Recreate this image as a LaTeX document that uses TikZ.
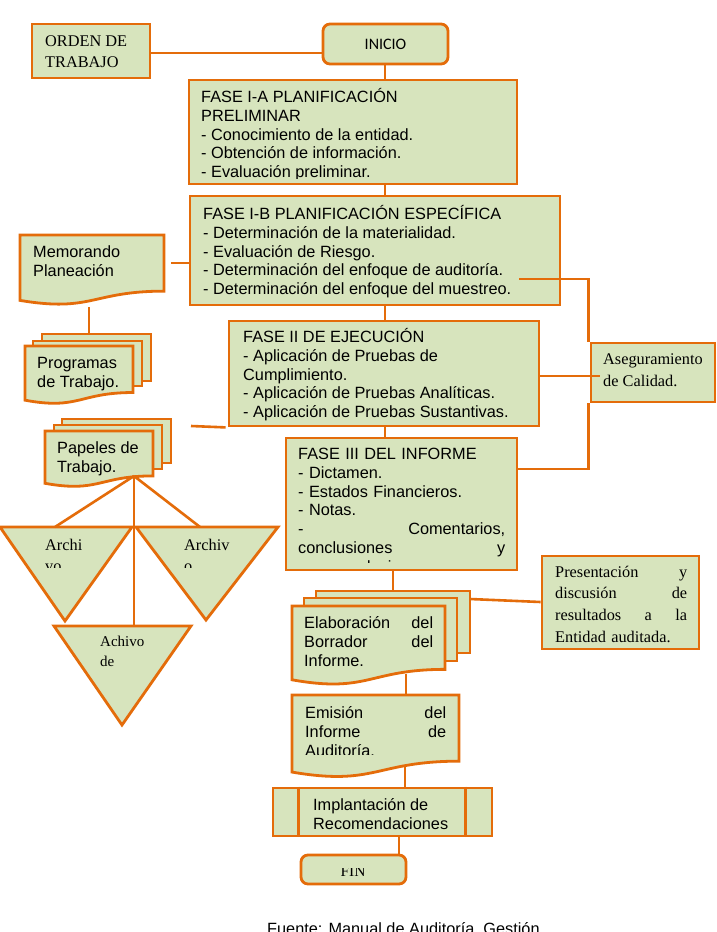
\documentclass[tikz,border=0pt]{standalone}
\usepackage{fontspec}
\setmainfont{Liberation Serif}
\newfontfamily\arialf{Liberation Sans}
\newfontfamily\carlitof{Carlito}
\definecolor{lineor}{HTML}{E46C0A}
\definecolor{boxfill}{HTML}{D7E4BD}

\tikzset{
  box/.style={draw=lineor, fill=boxfill, line width=2.8pt, inner sep=0pt},
  link/.style={draw=lineor, line width=2.6pt},
  txt/.style={inner sep=0pt, anchor=north west, align=left, text=black},
  sans/.style={font=\arialf\fontsize{16.3}{18.9}\selectfont},
  serif/.style={font=\fontsize{16.3}{21.6}\selectfont},
}
\newcommand\topstrut{\noindent\rule{0pt}{1em}}
% document symbol with wavy bottom: x, y (top), width, height
\newcommand\flowdoc[4]{%
  \draw[box] (#1,#2) -- (#1+#3,#2) -- (#1+#3,#2+0.802*#4)
    .. controls (#1+0.5*#3,#2+0.802*#4) and (#1+0.5*#3,#2+1.1075*#4) ..
    (#1,#2+0.934*#4) -- cycle;}

\begin{document}
\begin{tikzpicture}[x=1pt,y=-1pt]
\fill[white] (0,0) rectangle (717,932);
\useasboundingbox (0,0) rectangle (717,932);

% ---------- boxes ----------
\node[box, minimum width=118pt, minimum height=54pt] (orden) at (91,51) {};
\node[box, rounded corners=7pt, minimum width=125pt, minimum height=40pt] (inicio) at (385.5,44) {};
\node[box, minimum width=328pt, minimum height=104pt] (faseIA) at (353,132) {};
\node[box, minimum width=370pt, minimum height=109pt] (faseIB) at (375,250.5) {};
\node[box, minimum width=310pt, minimum height=105pt] (faseII) at (384,373.5) {};
\node[box, minimum width=231pt, minimum height=132pt] (faseIII) at (401.5,504) {};
\node[box, minimum width=124pt, minimum height=59pt] (aseg) at (653,372.5) {};
\node[box, minimum width=157pt, minimum height=93pt] (pres) at (620.5,602.5) {};
\node[box, minimum width=219pt, minimum height=48pt] (impl) at (382.5,812) {};
\draw[box] ([xshift=27pt]impl.north west) -- ([xshift=27pt]impl.south west);
\draw[box] ([xshift=-28pt]impl.north east) -- ([xshift=-28pt]impl.south east);
\node[box, rounded corners=7pt, minimum width=105pt, minimum height=29pt] (fin) at (353.5,869.5) {};

% memo
\flowdoc{20}{235}{144}{70}
% program sheets
\draw[box] (42,334) rectangle (151,381);
\draw[box] (33,341) rectangle (142,386);
\flowdoc{25}{346}{108}{58}
% working papers
\draw[box] (62,419) rectangle (171,463);
\draw[box] (54,425) rectangle (162,469);
\flowdoc{45}{431}{108}{56}
% draft report
\draw[box] (316,591) rectangle (470,653);
\draw[box] (304,598) rectangle (457,661);
\flowdoc{292}{606}{153}{79}
% final report
\flowdoc{292}{695}{167}{82.5}

% file triangles
\draw[box] (0,527) -- (132,527) -- (65,621) -- cycle;
\draw[box] (136,527) -- (278,527) -- (206,620) -- cycle;
\draw[box] (54,626) -- (191,626) -- (122,725) -- cycle;

% ---------- connection points ----------
\coordinate (spine) at (385,0);
\coordinate (memoR) at (171,263);
\coordinate (memoB) at (89,307);
\coordinate (progT) at (89,334);
\coordinate (papR) at (191,426);
\coordinate (papB) at (134,476);
\coordinate (triA) at (55,527);
\coordinate (triB) at (200,527);
\coordinate (triC) at (134,626);
\coordinate (ibR) at (519,279);
\coordinate (elabT) at (393,591);
\coordinate (elabR) at (470,599);
\coordinate (elabB) at (406,674);
\coordinate (emisT) at (406,695);
\coordinate (emisB) at (405,767);

% ---------- connectors ----------
\draw[link] (orden.east |- 0,53) -- (inicio.west |- 0,53);
\draw[link] (spine |- inicio.south) -- (spine |- faseIA.north);
\draw[link] (spine |- faseIA.south) -- (spine |- faseIB.north);
\draw[link] (spine |- faseIB.south) -- (spine |- faseII.north);
\draw[link] (spine |- faseII.south) -- (spine |- faseIII.north);
\draw[link] (elabT |- faseIII.south) -- (elabT);
\draw[link] (elabB) -- (emisT);
\draw[link] (emisB) -- (emisB |- impl.north);
\draw[link] (399,0 |- impl.south) -- (399,0 |- fin.north);
\draw[link] (memoR) -- (faseIB.west |- memoR);
\draw[link] (memoB) -- (progT);
\draw[link] (papR) -- ([xshift=-2pt]faseII.south west);
\draw[link] (papB) -- (triA);
\draw[link] (papB) -- (triC);
\draw[link] (papB) -- (triB);
\draw[link] (ibR) -| ([xshift=-1pt]aseg.north west);
\draw[link] ([xshift=-1pt]aseg.south west) |- (faseIII.east |- 0,469);
\draw[link] (faseII.east |- 0,376) -- ([xshift=10pt]aseg.west |- 0,376);
\draw[link] (elabR) -- (pres.west |- 0,602);

% ---------- texts ----------
\node[txt, serif, font=\fontsize{16.3}{21}\selectfont] (tOrden) at (45,30.2) {\topstrut ORDEN DE\\TRABAJO};
\node[inner sep=0pt, font=\carlitof\fontsize{16}{19}\selectfont] (tInicio) at (inicio) {INICIO};

\begin{scope}
\clip (194,85) rectangle (512,178.5);
\node[txt, sans] (tIA) at (201,85.7) {\topstrut FASE I-A PLANIFICACIÓN\\PRELIMINAR\\- Conocimiento de la entidad.\\- Obtención de información.\\- Evaluación preliminar.};
\end{scope}

\node[txt, sans] (tIB) at (203,202.7) {\topstrut FASE I-B PLANIFICACIÓN ESPECÍFICA\\- Determinación de la materialidad.\\- Evaluación de Riesgo.\\- Determinación del enfoque de auditoría.\\- Determinación del enfoque del muestreo.};

\begin{scope}
\clip (234,324) rectangle (534,420.5);
\node[txt, sans] (tII) at (243,325.7) {\topstrut FASE II DE EJECUCIÓN\\- Aplicación de Pruebas de\\Cumplimiento.\\- Aplicación de Pruebas Analíticas.\\- Aplicación de Pruebas Sustantivas.};
\end{scope}

\begin{scope}
\clip (291,441) rectangle (512,562);
\node[txt, sans, text width=207pt] (tIII) at (298,442.7) {\topstrut FASE III DEL INFORME\\- Dictamen.\\- Estados Financieros.\\- Notas.\\-\hfill Comentarios,\\conclusiones\hfill y\\recomendaciones.};
\end{scope}

\node[txt, serif] (tAseg) at (603,348.2) {\topstrut Aseguramiento\\de Calidad.};
\node[txt, serif, text width=132pt] (tPres) at (555,560.7) {\topstrut Presentación\hfill y\\discusión\hfill de\\resultados\hfill a\hfill la\\Entidad auditada.};

\node[txt, sans] (tMemo) at (33,241) {\topstrut Memorando\\Planeación};
\node[txt, sans] (tProg) at (37,351.7) {\topstrut Programas\\de Trabajo.};
\node[txt, sans] (tPap) at (57,437.2) {\topstrut Papeles de\\Trabajo.};
\node[txt, sans, text width=129pt] (tElab) at (304,612.2) {\topstrut Elaboración\hfill del\\Borrador\hfill del\\Informe.};

\begin{scope}
\clip (297,698) rectangle (455,754);
\node[txt, sans, text width=141pt] (tEmis) at (305,701.7) {\topstrut Emisión\hfill del\\Informe\hfill de\\Auditoría.};
\end{scope}

\node[txt, sans] (tImpl) at (313,794.2) {\topstrut Implantación de\\Recomendaciones};

\begin{scope}
\clip (40,530) rectangle (130,567);
\node[txt, serif] (tArchA) at (45,533.7) {\topstrut Archi\\vo};
\end{scope}
\begin{scope}
\clip (180,530) rectangle (275,567);
\node[txt, serif] (tArchB) at (184,533.7) {\topstrut Archiv\\o};
\end{scope}
\node[txt, font=\fontsize{15}{20}\selectfont] (tAchivo) at (100,631.5) {\topstrut Achivo\\de};

\begin{scope}
\clip (305,868) rectangle (402,882);
\node[inner sep=0pt, anchor=base, font=\fontsize{15.5}{18}\selectfont] (tFin) at (353,876.7) {FIN};
\end{scope}

\begin{scope}
\clip (0,0) rectangle (717,932);
\node[inner sep=0pt, anchor=base west, font=\arialf\fontsize{16.3}{18.9}\selectfont] (tFuente) at (267,934.7) {Fuente: Manual de Auditoría, Gestión};
\end{scope}
\end{tikzpicture}
\end{document}
